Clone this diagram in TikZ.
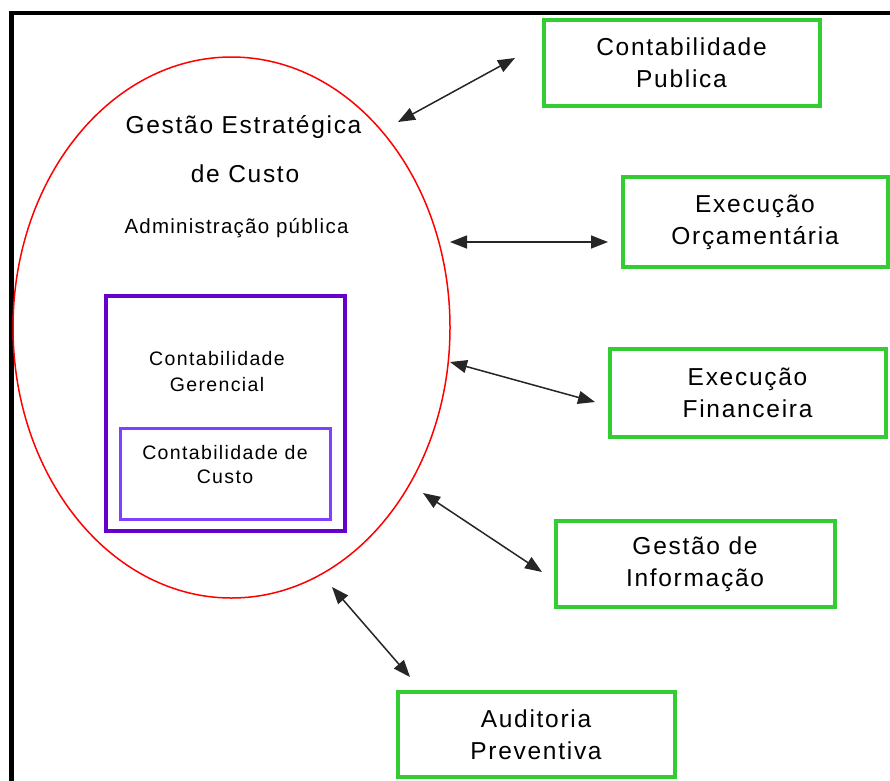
\documentclass[tikz,border=0pt]{standalone}
\usepackage{fontspec}
\setmainfont{Liberation Sans}
\newfontfamily\lblfont[LetterSpace=7]{Liberation Sans}
\newfontfamily\lblfontb[LetterSpace=6]{Liberation Sans}
\usetikzlibrary{arrows.meta,shapes.geometric}
\definecolor{boxgreen}{RGB}{51,204,51}
\definecolor{outerviolet}{RGB}{102,0,204}
\definecolor{innerviolet}{RGB}{128,64,255}
\begin{document}
\begin{tikzpicture}[x=1pt,y=-1pt,
  bigtext/.style={font=\lblfont\fontsize{24.5}{32}\selectfont, align=center, inner sep=0pt},
  smalltext/.style={font=\lblfont\fontsize{19.5}{26}\selectfont, align=center, inner sep=0pt},
  linkbox/.style={draw=boxgreen, line width=4pt, fill=white, bigtext},
  link/.style={{Triangle[length=17pt,width=13pt]}-{Triangle[length=17pt,width=13pt]},
    line width=1.5pt, draw=black!85, fill=black!85},
  ]
\useasboundingbox (0,0) rectangle (890,780);
% outer frame, running past the page edges
\begin{scope}
  \clip (0,0) rectangle (890,780);
  \draw[line width=4.5pt] (11.5,800) |- (900,13);
\end{scope}

% central ellipse
\node[draw=red, line width=1.5pt, ellipse, minimum width=437pt,
      minimum height=541pt, inner sep=0pt] (gest) at (231.5,327.5) {};
\node[bigtext, anchor=base] (gtitle) at (243.5,133) {Gestão Estratégica};
\node[bigtext, anchor=base] (gsub) at (245,182) {de Custo};
\node[font=\lblfontb\fontsize{20.5}{26}\selectfont, inner sep=0pt, anchor=base]
      (adm) at (236.5,233) {Administração pública};

% management / cost accounting boxes
\node[draw=outerviolet, line width=4pt, minimum width=239pt,
      minimum height=235pt, inner sep=0pt] (cger) at (225,413) {};
\node[draw=innerviolet, line width=3pt, minimum width=210pt,
      minimum height=91pt, inner sep=0pt] (ccus) at (225,473.5) {};
\node[smalltext] (cgertxt) at (217,371.3) {Contabilidade\\Gerencial};
\node[smalltext, font=\lblfont\fontsize{19.5}{24}\selectfont] (ccustxt) at (225,465) {Contabilidade de\\Custo};

% related areas
\node[linkbox, minimum width=276pt, minimum height=86pt] (cpub) at (681.5,62.5) {Contabilidade\\Publica};
\node[linkbox, minimum width=265pt, minimum height=90pt] (eorc) at (755,222) {Execução\\Orçamentária};
\node[linkbox, minimum width=276pt, minimum height=88pt] (efin) at (747.5,393) {Execução\\Financeira};
\node[linkbox, minimum width=279pt, minimum height=86.5pt] (ginf) at (695,563.75) {Gestão de\\Informação};
\node[linkbox, minimum width=277pt, minimum height=85.5pt] (aprev) at (536,734.25) {Auditoria\\Preventiva};

% arrow end points
\coordinate (g1) at (398,122);  \coordinate (b1) at (515,58);
\coordinate (g2) at (450,242);  \coordinate (b2) at (608,242);
\coordinate (g3) at (450,362);  \coordinate (b3) at (595,402);
\coordinate (g4) at (423,493);  \coordinate (b4) at (542,572);
\coordinate (g5) at (332,587);  \coordinate (b5) at (410,677);

\draw[link] (g1) -- (b1);
\draw[link] (g2) -- (b2);
\draw[link] (g3) -- (b3);
\draw[link] (g4) -- (b4);
\draw[link] (g5) -- (b5);
\end{tikzpicture}
\end{document}
